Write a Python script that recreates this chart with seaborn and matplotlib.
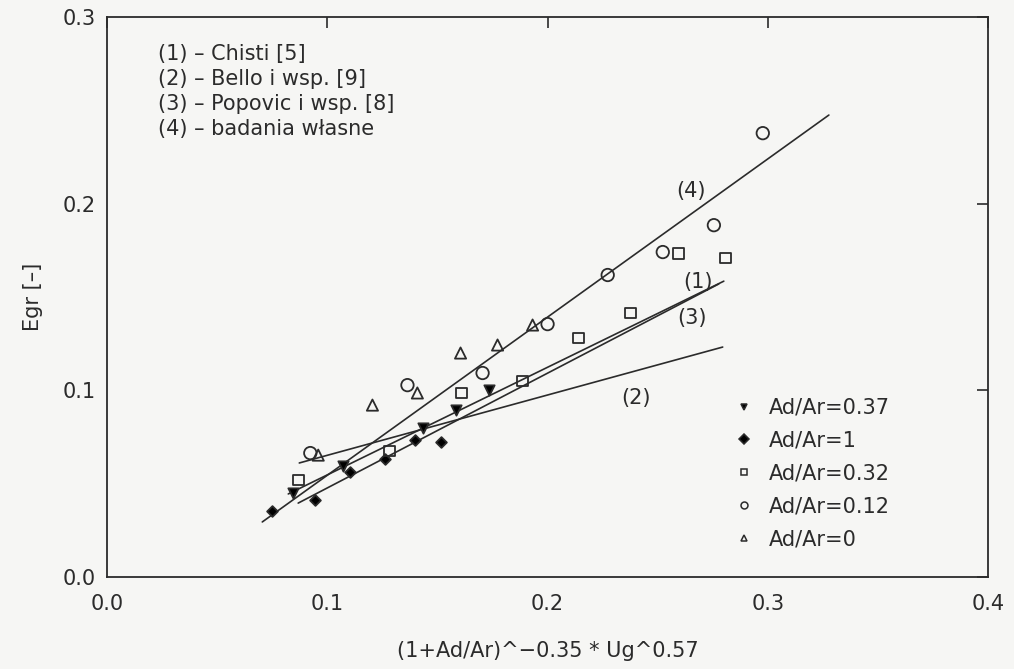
import pandas as pd
import matplotlib.pyplot as plt
import seaborn as sns
from matplotlib.lines import Line2D

# measured points, one array pair per Ad/Ar series
x_037 = [0.0845, 0.1073, 0.1436, 0.1586, 0.1732]
y_037 = [0.0450, 0.0595, 0.0798, 0.0894, 0.1002]

x_1 = [0.0750, 0.0945, 0.1105, 0.1264, 0.1400, 0.1518]
y_1 = [0.0354, 0.0412, 0.0562, 0.0632, 0.0734, 0.0723]

x_032 = [0.0868, 0.1282, 0.1609, 0.1886, 0.2141, 0.2377, 0.2595, 0.2809]
y_032 = [0.0520, 0.0675, 0.0986, 0.1050, 0.1280, 0.1414, 0.1735, 0.1709]

x_012 = [0.0923, 0.1364, 0.1705, 0.2000, 0.2273, 0.2523, 0.2755, 0.2977]
y_012 = [0.0664, 0.1028, 0.1093, 0.1355, 0.1618, 0.1741, 0.1885, 0.2378]

x_0 = [0.0959, 0.1205, 0.1409, 0.1605, 0.1773, 0.1932]
y_0 = [0.0653, 0.0921, 0.0986, 0.1200, 0.1243, 0.1350]

# correlation lines (end points)
line_names = ['(1)', '(2)', '(3)', '(4)']
line_x = [[0.0823, 0.2800], [0.0873, 0.2795], [0.0868, 0.2777], [0.0705, 0.3277]]
line_y = [[0.0445, 0.1585], [0.0611, 0.1232], [0.0396, 0.1570], [0.0295, 0.2475]]

ref_lines = ['(1) \u2013 Chisti [5]',
             '(2) \u2013 Bello i wsp. [9]',
             '(3) \u2013 Popovic i wsp. [8]',
             '(4) \u2013 badania w\u0142asne']

series = [
    ('Ad/Ar=0.37', x_037, y_037, 'v', 'black'),
    ('Ad/Ar=1', x_1, y_1, 'D', 'black'),
    ('Ad/Ar=0.32', x_032, y_032, 's', 'none'),
    ('Ad/Ar=0.12', x_012, y_012, 'o', 'none'),
    ('Ad/Ar=0', x_0, y_0, '^', 'none'),
]
sizes = {'v': 55, 'D': 30, 's': 60, 'o': 80, '^': 65}

sns.set_style('white')
plt.rcParams['font.family'] = ['DejaVu Sans']
ink = '#2b2b2b'
paper = '#f6f6f4'
fs = 15

fig = plt.figure(figsize=(10.14, 6.69), dpi=100, facecolor=paper)
ax = fig.add_axes([0.1055, 0.1375, 0.869, 0.837])
ax.set_facecolor(paper)

for name, xs, ys in zip(line_names, line_x, line_y):
    sns.lineplot(x=xs, y=ys, ax=ax, color=ink, linewidth=1.2, legend=False)

handles = []
for label, xs, ys, m, fc in series:
    df = pd.DataFrame({'x': xs, 'y': ys})
    sns.scatterplot(data=df, x='x', y='y', ax=ax, marker=m, s=sizes[m],
                    facecolor=fc, edgecolor=ink, linewidth=1.3, legend=False, zorder=3)
    handles.append(Line2D([], [], linestyle='none', marker=m, markersize=5,
                          markerfacecolor=fc, markeredgecolor=ink, markeredgewidth=1.1,
                          label=label))

ax.set_xlim(0, 0.4)
ax.set_ylim(0, 0.3)
ax.set_xticks([0.0, 0.1, 0.2, 0.3, 0.4])
ax.set_yticks([0.0, 0.1, 0.2, 0.3])
ax.set_xticklabels(['0.0', '0.1', '0.2', '0.3', '0.4'])
ax.set_yticklabels(['0.0', '0.1', '0.2', '0.3'])
ax.tick_params(direction='in', length=8, width=1.2, color=ink, labelcolor=ink,
               labelsize=fs, top=True, right=True)
ax.tick_params(axis='x', pad=12)
ax.tick_params(axis='y', pad=8)
for sp in ax.spines.values():
    sp.set_color(ink)
    sp.set_linewidth(1.3)

ax.set_xlabel('(1+Ad/Ar)^\u22120.35 * Ug^0.57', fontsize=fs, color=ink, labelpad=20)
ax.set_ylabel('Egr [\u2013]', fontsize=fs, color=ink, labelpad=14)

# line labels
ax.text(0.265, 0.207, '(4)', fontsize=fs, color=ink, ha='center', va='center')
ax.text(0.2685, 0.158, '(1)', fontsize=fs, color=ink, ha='center', va='center')
ax.text(0.2655, 0.139, '(3)', fontsize=fs, color=ink, ha='center', va='center')
ax.text(0.240, 0.096, '(2)', fontsize=fs, color=ink, ha='center', va='center')

# reference list in the upper left
for i, t in enumerate(ref_lines):
    ax.text(0.023, 0.2801 - i * 0.0134, t, fontsize=fs, color=ink, ha='left', va='center')

ax.legend(handles=handles, loc='upper left', bbox_to_anchor=(0.709, 0.320),
          frameon=False, fontsize=fs, handletextpad=0.6, labelspacing=0.62,
          handlelength=1.2, borderpad=0, borderaxespad=0, labelcolor=ink)

plt.savefig('out.png', dpi=100, facecolor=paper)
